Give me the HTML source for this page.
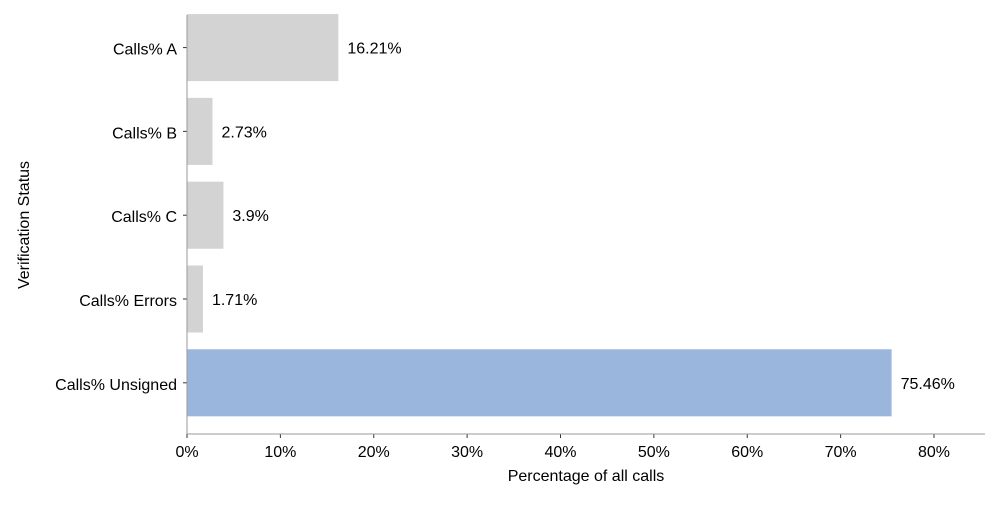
<!DOCTYPE html>
<html><head><meta charset="utf-8"><style>
html,body{margin:0;padding:0;background:#fff;}
svg text{font-family:"Liberation Sans","DejaVu Sans",sans-serif;}
</style></head><body>
<svg width="1000" height="500" xmlns="http://www.w3.org/2000/svg">
<g id="bars"></g>
<g id="axes"></g>
<text x="586" y="481" font-size="16" text-anchor="middle" fill="#000">Percentage of all calls</text>
<text transform="translate(29,225) rotate(-90)" font-size="16" text-anchor="middle" fill="#000">Verification Status</text>
</svg>
<script>
const categories = ["Calls% A","Calls% B","Calls% C","Calls% Errors","Calls% Unsigned"];
const values = [16.21, 2.73, 3.9, 1.71, 75.46];
const valueLabels = ["16.21%","2.73%","3.9%","1.71%","75.46%"];
const xTicks = [0,10,20,30,40,50,60,70,80];
const xTickLabels = ["0%","10%","20%","30%","40%","50%","60%","70%","80%"];

const NS="http://www.w3.org/2000/svg";
const plotLeft=187, plotRight=985, plotTop=15, plotBottom=434;
const xScale=v=>plotLeft+v*(934-plotLeft)/80;
const bandStep=(plotBottom-plotTop)/categories.length;
const yCenter=i=>plotTop+bandStep*(i+0.5)-9.3;
const barH=bandStep*0.8;
const barsG=document.getElementById('bars'), axesG=document.getElementById('axes');
function mk(tag,attrs,parent){const e=document.createElementNS(NS,tag);for(const k in attrs)e.setAttribute(k,attrs[k]);parent.appendChild(e);return e;}
const maxIdx=values.indexOf(Math.max(...values));
categories.forEach((c,i)=>{
  const cy=yCenter(i);
  const r=mk('rect',{x:plotLeft,y:cy-barH/2,width:xScale(values[i])-plotLeft,height:barH,fill:i===maxIdx?'#9ab6dc':'#d3d3d4'},barsG);
  
  
  const t=mk('text',{x:xScale(values[i])+9,y:cy+6,'font-size':16,fill:'#000'},barsG);
  t.textContent=valueLabels[i];
  
  
  const tk=mk('line',{x1:plotLeft-4,x2:plotLeft,y1:cy,y2:cy,stroke:'#333','stroke-width':1},axesG);
  
  
  const lb=mk('text',{x:plotLeft-10,y:cy+7,'font-size':16,'text-anchor':'end',fill:'#000'},axesG);
  lb.textContent=c;
  
  
});
xTicks.forEach((v,i)=>{
  const x=xScale(v);
  const tk=mk('line',{x1:x,x2:x,y1:plotBottom,y2:plotBottom+4,stroke:'#333','stroke-width':1},axesG);
  
  
  const lb=mk('text',{x:x,y:plotBottom+23,'font-size':16,'text-anchor':'middle',fill:'#000'},axesG);
  lb.textContent=xTickLabels[i];
  
  
});
const ya=mk('line',{x1:plotLeft,x2:plotLeft,y1:plotTop,y2:plotBottom,stroke:'#999','stroke-width':1},axesG);


const xa=mk('line',{x1:plotLeft,x2:plotRight,y1:plotBottom,y2:plotBottom,stroke:'#999','stroke-width':1},axesG);


</script>
</body></html>
